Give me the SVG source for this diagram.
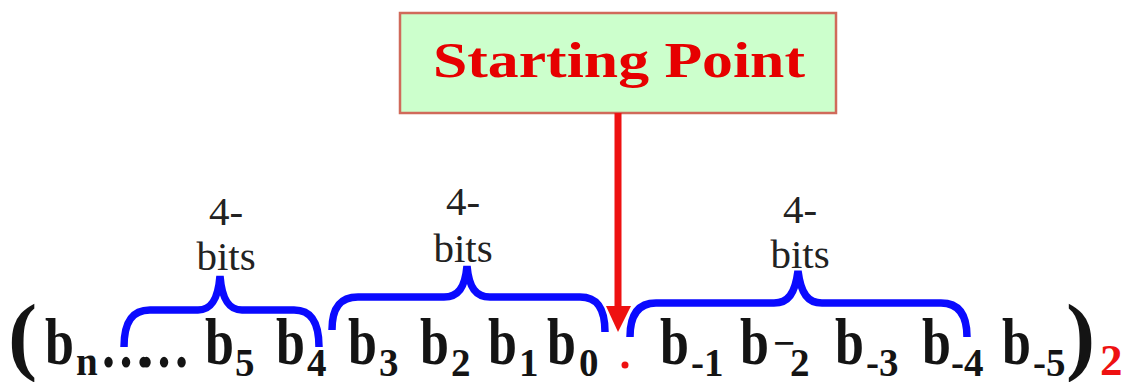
<svg xmlns="http://www.w3.org/2000/svg" width="1131" height="382" viewBox="0 0 1131 382">
<style>
.f{font-family:"Liberation Serif","Times New Roman",serif;font-weight:bold;fill:#141414}
.main{font-size:52px}
.sub{font-size:39px}
.lbl{font-family:"Liberation Serif","Times New Roman",serif;font-size:41px;fill:#222;text-anchor:middle}
.brace{fill:none;stroke:#0a0aff;stroke-width:7.5}
</style>
<rect width="1131" height="382" fill="#fff"/>
<g id="start">
<rect x="400" y="13" width="436" height="100" fill="#ccffcc" stroke="#d06a5a" stroke-width="2.5"/>
<text x="433" y="77" textLength="372" lengthAdjust="spacingAndGlyphs" font-family="Liberation Serif, serif" font-weight="bold" font-size="50" fill="#e60000">Starting Point</text>
</g>
<g id="connectors">
<line x1="618" y1="113" x2="618" y2="310" stroke="#ee1111" stroke-width="7"/>
<polygon points="606,306 631,306 618,332" fill="#ee1111"/>
</g>
<g id="braces">
<path class="brace" d="M124,347 C124,322 132,310 150,310 L198,310 C211,310 218,300 220,276 C222,300 229,310 242,310 L294,310 C311,310 319,322 319,347"/>
<path class="brace" d="M332,330 C332,308 340,297 358,297 L444,297 C458,297 465,288 467,266 C469,288 476,297 490,297 L580,297 C597,297 605,308 605,332"/>
<path class="brace" d="M630,337 C630,315 638,303 656,303 L774,303 C788,303 795,294 798,271 C801,294 808,303 822,303 L941,303 C958,303 967,314 967,337"/>
</g>
<g id="labels">
<text class="lbl" x="226" y="225">4-</text>
<text class="lbl" x="226" y="270">bits</text>
<text class="lbl" x="463" y="215">4-</text>
<text class="lbl" x="463" y="262">bits</text>
<text class="lbl" x="800" y="223">4-</text>
<text class="lbl" x="800" y="268">bits</text>
</g>
<g id="formula" class="f">
<g transform="translate(0,364) scale(1,1.25)">
<text x="8" y="0" font-size="70" transform="translate(8,0) scale(1.25,1) translate(-8,0)">(</text>
<text class="main" x="45" y="0">b</text>
<text class="main" x="100" y="2" font-size="46" textLength="90">……</text>
<text class="main" x="205" y="0">b</text>
<text class="main" x="276" y="0">b</text>
<text class="main" x="348" y="0">b</text>
<text class="main" x="420" y="0">b</text>
<text class="main" x="488" y="0">b</text>
<text class="main" x="547" y="0">b</text>
<text class="main" x="660" y="0">b</text>
<text class="main" x="740" y="0">b</text>
<text class="main" x="835" y="0">b</text>
<text class="main" x="922" y="0">b</text>
<text class="main" x="1002" y="0">b</text>
<text x="1066" y="0" font-size="70" transform="translate(1066,0) scale(1.25,1) translate(-1066,0)">)</text>
</g>
<text class="sub" x="76" y="375">n</text>
<text class="sub" x="235" y="376">5</text>
<text class="sub" x="307" y="376">4</text>
<text class="sub" x="379" y="376">3</text>
<text class="sub" x="451" y="376">2</text>
<text class="sub" x="519" y="376">1</text>
<text class="sub" x="579" y="376">0</text>
<text class="sub" x="691" y="376">-1</text>
<text class="sub" x="773" y="356" font-size="36">−<tspan x="790" y="376" font-size="39">2</tspan></text>
<text class="sub" x="866" y="376">-3</text>
<text class="sub" x="951" y="376">-4</text>
<text class="sub" x="1033" y="376">-5</text>
<text x="1100" y="375" font-size="45" style="fill:#ee1111">2</text>
</g>
<circle cx="625" cy="365" r="3.5" fill="#ee1111"/>
</svg>
